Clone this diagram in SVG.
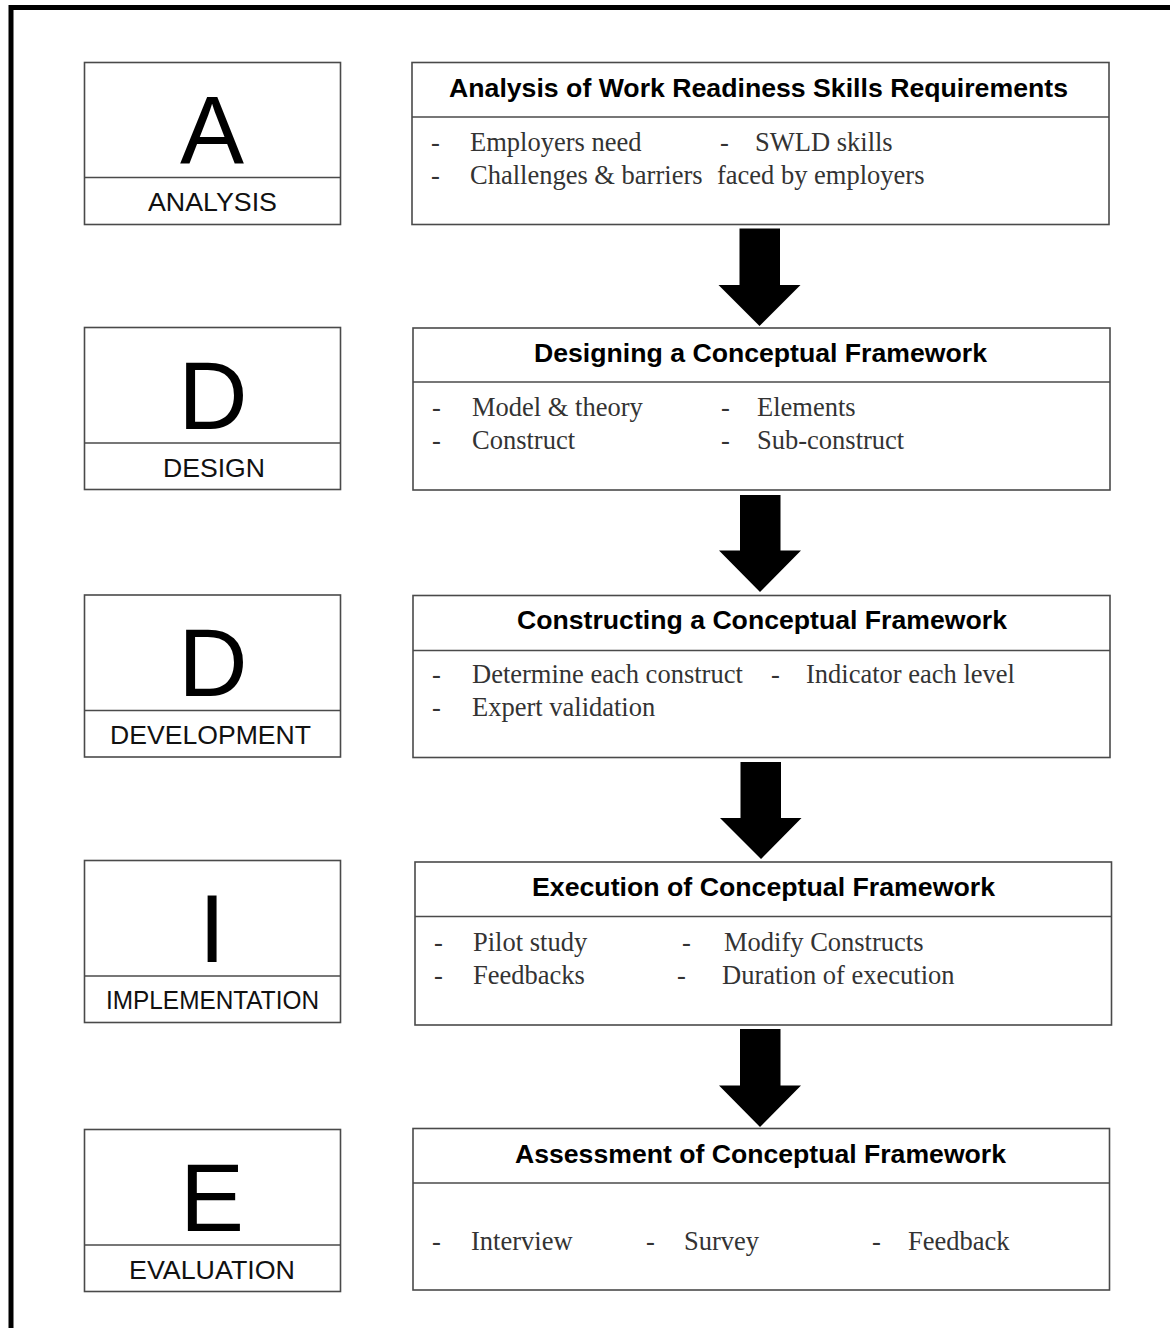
<svg xmlns="http://www.w3.org/2000/svg" width="1170" height="1328" viewBox="0 0 1170 1328">
<defs>
<style>
.box{fill:#fff;stroke:#4a4a4a;stroke-width:1.6}
.div{stroke:#4a4a4a;stroke-width:1.6}
.big{font-family:"Liberation Sans",Arial,sans-serif;font-size:96px;fill:#000;text-anchor:middle}
.lab{font-family:"Liberation Sans",Arial,sans-serif;font-size:25px;fill:#111;text-anchor:middle}
.ttl{font-family:"Liberation Sans",Arial,sans-serif;font-size:25px;font-weight:bold;fill:#000;text-anchor:middle}
.bd{font-family:"Liberation Serif","Times New Roman",serif;font-size:26.5px;fill:#333}
.arr{fill:#000}
</style>
</defs>
<rect width="1170" height="1328" fill="#fff"/>
<rect x="11" y="7.5" width="1200" height="1400" fill="none" stroke="#000" stroke-width="5"/>

<g id="left-A">
<rect class="box" x="84.5" y="62.5" width="256" height="162"/>
<line class="div" x1="84.5" y1="177.5" x2="340.5" y2="177.5"/>
<text class="big" x="212" y="163">A</text>
<text class="lab" x="212.5" y="211" textLength="129" lengthAdjust="spacingAndGlyphs">ANALYSIS</text>
</g>
<g id="left-D1">
<rect class="box" x="84.5" y="327.5" width="256" height="162"/>
<line class="div" x1="84.5" y1="443" x2="340.5" y2="443"/>
<text class="big" x="213" y="429">D</text>
<text class="lab" x="214" y="477" textLength="102" lengthAdjust="spacingAndGlyphs">DESIGN</text>
</g>
<g id="left-D2">
<rect class="box" x="84.5" y="595" width="256" height="162"/>
<line class="div" x1="84.5" y1="710.5" x2="340.5" y2="710.5"/>
<text class="big" x="213" y="696">D</text>
<text class="lab" x="210.5" y="744" textLength="201" lengthAdjust="spacingAndGlyphs">DEVELOPMENT</text>
</g>
<g id="left-I">
<rect class="box" x="84.5" y="860.5" width="256" height="162"/>
<line class="div" x1="84.5" y1="976" x2="340.5" y2="976"/>
<text class="big" x="212" y="962">I</text>
<text class="lab" x="212.5" y="1009" textLength="213" lengthAdjust="spacingAndGlyphs">IMPLEMENTATION</text>
</g>
<g id="left-E">
<rect class="box" x="84.5" y="1129.5" width="256" height="162"/>
<line class="div" x1="84.5" y1="1245" x2="340.5" y2="1245"/>
<text class="big" x="212" y="1231">E</text>
<text class="lab" x="212" y="1279" textLength="166" lengthAdjust="spacingAndGlyphs">EVALUATION</text>
</g>

<g id="box-analysis">
<rect class="box" x="412" y="62.5" width="697" height="162"/>
<line class="div" x1="412" y1="117" x2="1109" y2="117"/>
<text class="ttl" x="758.5" y="97" textLength="619" lengthAdjust="spacingAndGlyphs">Analysis of Work Readiness Skills Requirements</text>
<text class="bd" x="431" y="151">-</text><text class="bd" x="470" y="151">Employers need</text>
<text class="bd" x="720" y="151">-</text><text class="bd" x="755" y="151">SWLD skills</text>
<text class="bd" x="431" y="184">-</text><text class="bd" x="470" y="184">Challenges &amp; barriers</text>
<text class="bd" x="717" y="184">faced by employers</text>
</g>
<g id="box-design">
<rect class="box" x="413" y="328" width="697" height="162"/>
<line class="div" x1="413" y1="382" x2="1110" y2="382"/>
<text class="ttl" x="760.5" y="362" textLength="453" lengthAdjust="spacingAndGlyphs">Designing a Conceptual Framework</text>
<text class="bd" x="432" y="416">-</text><text class="bd" x="472" y="416">Model &amp; theory</text>
<text class="bd" x="721" y="416">-</text><text class="bd" x="757" y="416">Elements</text>
<text class="bd" x="432" y="449">-</text><text class="bd" x="472" y="449">Construct</text>
<text class="bd" x="721" y="449">-</text><text class="bd" x="757" y="449">Sub-construct</text>
</g>
<g id="box-development">
<rect class="box" x="413" y="595.5" width="697" height="162"/>
<line class="div" x1="413" y1="650.5" x2="1110" y2="650.5"/>
<text class="ttl" x="762" y="629" textLength="490" lengthAdjust="spacingAndGlyphs">Constructing a Conceptual Framework</text>
<text class="bd" x="432" y="683">-</text><text class="bd" x="472" y="683">Determine each construct</text>
<text class="bd" x="771" y="683">-</text><text class="bd" x="806" y="683">Indicator each level</text>
<text class="bd" x="432" y="716">-</text><text class="bd" x="472" y="716">Expert validation</text>
</g>
<g id="box-implementation">
<rect class="box" x="415" y="862" width="696.5" height="163"/>
<line class="div" x1="415" y1="916.5" x2="1111.5" y2="916.5"/>
<text class="ttl" x="763.5" y="896" textLength="463" lengthAdjust="spacingAndGlyphs">Execution of Conceptual Framework</text>
<text class="bd" x="434" y="951">-</text><text class="bd" x="473" y="951">Pilot study</text>
<text class="bd" x="682" y="951">-</text><text class="bd" x="724" y="951">Modify Constructs</text>
<text class="bd" x="434" y="984">-</text><text class="bd" x="473" y="984">Feedbacks</text>
<text class="bd" x="677" y="984">-</text><text class="bd" x="722" y="984">Duration of execution</text>
</g>
<g id="box-evaluation">
<rect class="box" x="413" y="1128.5" width="696.5" height="161.5"/>
<line class="div" x1="413" y1="1183" x2="1109.5" y2="1183"/>
<text class="ttl" x="760.5" y="1163" textLength="491" lengthAdjust="spacingAndGlyphs">Assessment of Conceptual Framework</text>
<text class="bd" x="432" y="1250">-</text><text class="bd" x="471" y="1250">Interview</text>
<text class="bd" x="646" y="1250">-</text><text class="bd" x="684" y="1250">Survey</text>
<text class="bd" x="872" y="1250">-</text><text class="bd" x="908" y="1250">Feedback</text>
</g>

<g id="connectors">
<polygon class="arr" points="739.5,228.5 780,228.5 780,285 800.5,285 759.5,326 718.5,285 739.5,285"/>
<polygon class="arr" points="740,495 780.5,495 780.5,550.5 801,550.5 760,592 719,550.5 740,550.5"/>
<polygon class="arr" points="740.5,762 781,762 781,818 801.5,818 761,859 720,818 740.5,818"/>
<polygon class="arr" points="740,1029 780.5,1029 780.5,1085.5 801,1085.5 760,1127 719,1085.5 740,1085.5"/>
</g>
</svg>
